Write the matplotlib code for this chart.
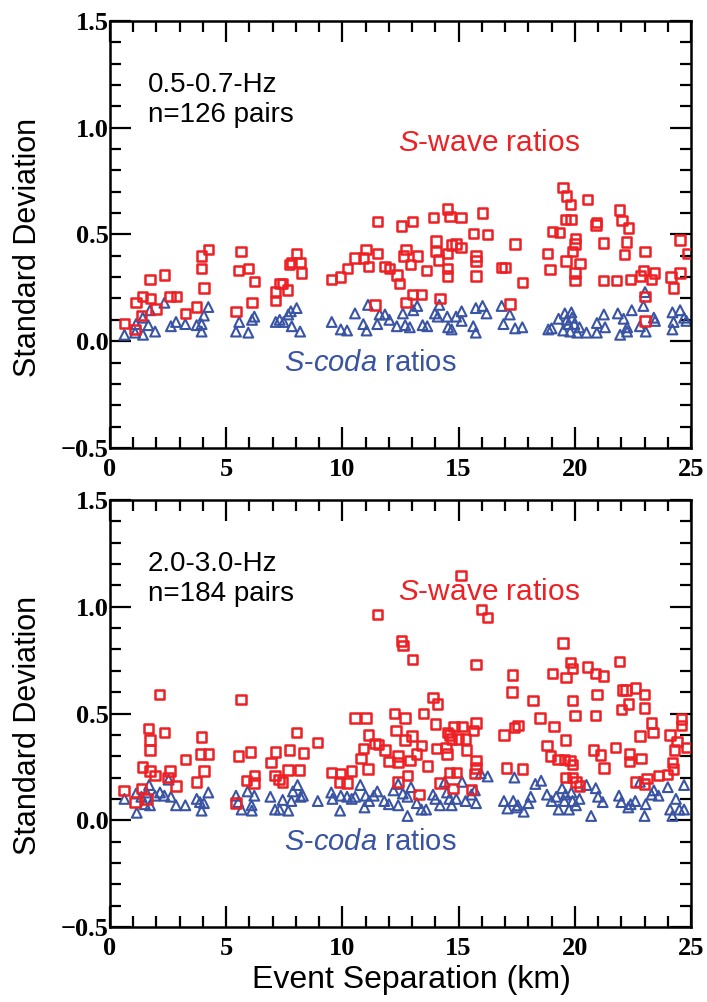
import matplotlib
matplotlib.use('Agg')
import matplotlib.pyplot as plt
from matplotlib.ticker import MultipleLocator

plt.rcParams['font.family'] = ['Liberation Sans', 'DejaVu Sans']
plt.rcParams['mathtext.fontset'] = 'custom'
plt.rcParams['mathtext.it'] = 'Liberation Sans:italic'
plt.rcParams['mathtext.rm'] = 'Liberation Sans'

red = '#ED2024'
blue = '#3A54A4'

# ---- 0.5-0.7 Hz panel ----
top_wave_x = [0.62, 1.12, 1.41, 1.72, 1.75, 1.36, 1.08, 1.97, 2.34, 2.58, 2.87, 3.24, 3.73, 3.94, 3.94,
              4.04, 4.23, 5.42, 5.64, 5.52, 5.95, 6.21, 6.11, 7.13, 7.13, 7.31, 7.43, 7.63, 7.72, 7.80,
              8.03, 8.18, 8.23, 9.54, 9.93, 10.23, 10.54, 10.90, 11.02, 11.13, 11.52, 11.52, 11.40, 11.83,
              12.02, 12.34, 12.45, 12.55, 13.02, 12.74, 12.62, 13.22, 12.94, 13.63, 13.02, 13.41, 12.74,
              13.91, 14.51, 14.63, 15.10, 14.03, 14.03, 14.13, 14.51, 14.70, 14.89, 15.10, 14.51, 14.51,
              14.20, 15.63, 16.03, 16.24, 15.74, 15.74, 15.74, 16.85, 17.00, 17.43, 17.74, 17.21, 18.82,
              18.93, 19.03, 19.33, 19.50, 19.65, 19.82, 19.61, 19.84, 20.04, 20.00, 19.90, 19.62, 20.22,
              20.01, 20.01, 20.54, 20.94, 20.92, 21.23, 21.23, 21.80, 21.92, 22.03, 22.32, 22.23, 22.13,
              22.40, 23.02, 22.83, 22.95, 23.31, 23.42, 23.02, 23.02, 24.13, 24.24, 24.53, 24.53, 24.86]
top_wave_y = [0.083, 0.18, 0.21, 0.29, 0.20, 0.12, 0.055, 0.15, 0.31, 0.21, 0.21, 0.13, 0.16, 0.40, 0.34,
              0.25, 0.43, 0.14, 0.42, 0.33, 0.34, 0.28, 0.18, 0.23, 0.19, 0.27, 0.27, 0.24, 0.36, 0.37,
              0.41, 0.37, 0.32, 0.29, 0.30, 0.34, 0.39, 0.39, 0.43, 0.35, 0.41, 0.56, 0.17, 0.35,
              0.34, 0.31, 0.27, 0.54, 0.56, 0.43, 0.40, 0.40, 0.36, 0.33, 0.22, 0.22, 0.18,
              0.58, 0.62, 0.585, 0.58, 0.47, 0.42, 0.38, 0.41, 0.45, 0.455, 0.44, 0.34, 0.305,
              0.20, 0.505, 0.60, 0.50, 0.40, 0.375, 0.305, 0.345, 0.345, 0.455, 0.275, 0.175, 0.41,
              0.335, 0.515, 0.51, 0.72, 0.68, 0.64, 0.57, 0.57, 0.48, 0.455, 0.42, 0.375, 0.365,
              0.32, 0.285, 0.665, 0.555, 0.545, 0.46, 0.285, 0.285, 0.615, 0.565, 0.53, 0.465, 0.405,
              0.29, 0.42, 0.305, 0.33, 0.29, 0.32, 0.21, 0.095, 0.30, 0.25, 0.475, 0.32, 0.41]

top_coda_x = [0.62, 1.12, 1.08, 1.41, 1.42, 1.65, 1.72, 1.94, 2.34, 2.62, 2.84, 3.24, 3.73, 3.94, 3.94,
              4.04, 4.23, 5.42, 5.56, 5.95, 6.11, 6.21, 7.13, 7.30, 7.47, 7.67, 7.78, 8.03, 7.82, 8.18,
              9.54, 9.93, 10.20, 10.54, 10.90, 11.04, 11.10, 11.50, 11.60, 11.83, 12.02,
              12.34, 12.60, 12.70, 12.90, 13.05, 13.22, 13.45, 13.65, 13.98, 14.17, 14.10, 14.51, 14.55,
              14.70, 14.89, 15.13, 15.13, 15.63, 15.74, 15.74, 16.03, 16.20, 16.85, 16.93, 17.20, 17.43,
              17.74, 18.86, 19.00, 19.30, 19.50, 19.57, 19.65, 19.72, 19.85, 19.88, 19.98, 19.80, 20.10,
              20.20, 20.50, 20.95, 20.95, 21.25, 21.30, 21.85, 21.95, 22.10, 22.25, 22.25, 22.45, 22.80,
              22.95, 23.02, 23.05, 23.40, 23.45, 24.20, 24.25, 24.20, 24.53, 24.70, 24.80]
top_coda_y = [0.03, 0.08, 0.04, 0.11, 0.03, 0.075, 0.145, 0.045, 0.18, 0.07, 0.09, 0.08, 0.075, 0.08, 0.045,
              0.12, 0.16, 0.045, 0.09, 0.04, 0.10, 0.115, 0.09, 0.10, 0.09, 0.125, 0.14, 0.155, 0.07, 0.045,
              0.09, 0.055, 0.05, 0.13, 0.08, 0.05, 0.17, 0.08, 0.125, 0.125, 0.10,
              0.07, 0.13, 0.075, 0.065, 0.145, 0.165, 0.075, 0.07, 0.13, 0.17, 0.115, 0.115, 0.065,
              0.055, 0.115, 0.14, 0.095, 0.07, 0.04, 0.155, 0.165, 0.13, 0.165, 0.08, 0.125, 0.06,
              0.065, 0.055, 0.06, 0.105, 0.05, 0.13, 0.10, 0.08, 0.135, 0.11, 0.08, 0.045, 0.04,
              0.065, 0.04, 0.085, 0.04, 0.125, 0.065, 0.13, 0.03, 0.105, 0.065, 0.045, 0.145, 0.07,
              0.165, 0.23, 0.045, 0.11, 0.095, 0.135, 0.09, 0.055, 0.145, 0.11, 0.095]

# ---- 2.0-3.0 Hz panel ----
bot_wave_x = [0.60, 1.08, 1.36, 1.41, 1.65, 1.72, 1.72, 1.72, 1.94, 1.60, 2.12, 2.34, 2.58, 2.50, 2.84,
              3.24, 3.73, 3.94, 3.90, 4.04, 4.23, 5.42, 5.52, 5.64, 5.88, 6.05, 6.21, 6.20, 6.93, 7.13,
              7.10, 7.28, 7.43, 7.72, 7.65, 8.03, 8.15, 8.33, 8.92, 9.54, 9.93, 9.87, 10.20, 10.40, 10.54,
              11.02, 11.13, 10.90, 10.80, 11.10, 11.40, 11.55, 11.83, 12.00, 11.52,
              15.10, 15.99, 16.24, 12.55, 12.60, 13.02, 15.74, 17.31, 19.03, 19.50, 19.82, 19.90, 19.62,
              20.54, 20.90, 21.23, 21.92, 20.95, 22.05, 22.20, 22.60, 23.00, 22.00, 22.30, 23.00, 23.30,
              23.37, 22.80, 24.10, 24.40, 24.30, 24.80, 24.60, 24.60, 24.20, 24.25, 24.00, 23.60, 23.10,
              23.00, 22.60, 22.85, 22.35, 22.35, 21.75, 21.25, 21.10, 20.80, 20.90, 19.90, 20.00, 19.60,
              19.80, 19.90, 19.55, 19.28, 18.95, 18.80, 19.60, 19.90, 20.05, 20.20, 19.10, 18.50, 18.20,
              17.30, 17.55, 17.40, 16.95, 17.05, 17.75, 15.75, 15.65, 15.30, 15.35, 15.75, 15.75, 15.70,
              15.15, 14.80, 14.53, 14.60, 14.70, 15.00, 14.45, 14.50, 14.05, 14.00, 13.90, 14.10, 13.50,
              12.70, 12.24, 12.30, 12.70, 13.00, 13.40, 13.20, 12.90, 12.40, 12.40, 13.65, 12.80, 12.40,
              14.20, 14.60, 14.90, 14.75, 15.55, 13.30]
bot_wave_y = [0.14, 0.086, 0.15, 0.25, 0.43, 0.375, 0.33, 0.23, 0.21, 0.10, 0.59, 0.41, 0.23, 0.20, 0.16,
              0.285, 0.18, 0.39, 0.31, 0.23, 0.31, 0.08, 0.30, 0.565, 0.185, 0.32, 0.21, 0.175, 0.27, 0.32,
              0.21, 0.19, 0.18, 0.33, 0.235, 0.41, 0.235, 0.315, 0.365, 0.225, 0.22, 0.18, 0.175, 0.23, 0.48,
              0.48, 0.40, 0.335, 0.29, 0.24, 0.36, 0.355, 0.33, 0.275, 0.965,
              1.148, 0.987, 0.95, 0.84, 0.82, 0.754, 0.73, 0.68, 0.687, 0.83, 0.74, 0.71, 0.67,
              0.718, 0.687, 0.675, 0.745, 0.59, 0.61, 0.61, 0.62, 0.59, 0.52, 0.545, 0.525, 0.455,
              0.41, 0.395, 0.40, 0.37, 0.33, 0.34, 0.475, 0.445, 0.27, 0.24, 0.215, 0.21, 0.195,
              0.17, 0.18, 0.29, 0.31, 0.275, 0.34, 0.245, 0.305, 0.33, 0.49, 0.56, 0.49, 0.375,
              0.28, 0.26, 0.285, 0.285, 0.30, 0.35, 0.20, 0.20, 0.18, 0.16, 0.44, 0.48, 0.56,
              0.60, 0.445, 0.435, 0.40, 0.245, 0.24, 0.455, 0.42, 0.38, 0.33, 0.28, 0.245, 0.22,
              0.44, 0.44, 0.41, 0.40, 0.38, 0.38, 0.34, 0.31, 0.335, 0.45, 0.575, 0.545, 0.50,
              0.48, 0.50, 0.42, 0.375, 0.395, 0.35, 0.31, 0.28, 0.30, 0.27, 0.255, 0.21, 0.18,
              0.175, 0.225, 0.225, 0.15, 0.145, 0.12]

bot_coda_x = [0.62, 1.15, 1.12, 1.35, 1.50, 1.57, 1.68, 1.72, 1.94, 2.15, 2.34, 2.52, 2.62, 2.84, 3.24,
              3.73, 3.87, 3.94, 4.04, 4.23, 5.42, 5.52, 5.66, 5.92, 6.09, 6.21, 6.10, 6.90, 7.10, 7.30,
              7.43, 7.67, 7.80, 7.87, 8.07, 8.20, 8.30, 8.94, 9.52, 9.57, 9.90, 9.93, 10.20, 10.40, 10.55,
              10.77, 10.95, 11.00, 11.15, 11.35, 11.50, 11.80, 12.00,
              12.40, 12.20, 12.60, 12.95, 12.80, 12.40, 12.80, 13.20, 13.40, 13.60, 13.90, 14.00, 14.20,
              14.40, 14.50, 14.60, 14.70, 14.90, 15.15, 15.30, 15.55, 15.70, 15.75, 15.95, 16.25, 16.95,
              17.10, 17.40, 17.35, 17.50, 17.55, 17.80, 18.00, 18.10, 18.30, 18.55, 18.80, 19.00, 19.20,
              19.30, 19.45, 19.55, 19.60, 19.75, 19.85, 19.90, 20.05, 20.20, 20.50, 20.70, 20.90, 21.00,
              21.20, 21.90, 22.00, 22.30, 22.40, 22.60, 22.80, 23.00, 23.05, 23.30, 23.40, 23.60, 24.00,
              24.10, 24.20, 24.35, 24.50, 24.70, 24.70]
bot_coda_y = [0.10, 0.035, 0.125, 0.11, 0.075, 0.13, 0.165, 0.07, 0.115, 0.13, 0.115, 0.19, 0.11, 0.07, 0.07,
              0.10, 0.085, 0.045, 0.08, 0.13, 0.115, 0.085, 0.05, 0.135, 0.07, 0.115, 0.045, 0.11, 0.05, 0.05,
              0.095, 0.045, 0.09, 0.135, 0.165, 0.11, 0.115, 0.09, 0.13, 0.10, 0.045, 0.115, 0.11, 0.10, 0.11,
              0.165, 0.06, 0.115, 0.09, 0.115, 0.135, 0.09, 0.075,
              0.17, 0.14, 0.125, 0.155, 0.11, 0.07, 0.02, 0.08, 0.05, 0.05, 0.12, 0.10, 0.07,
              0.18, 0.13, 0.10, 0.07, 0.10, 0.18, 0.09, 0.12, 0.14, 0.08, 0.22, 0.205, 0.09,
              0.055, 0.20, 0.09, 0.06, 0.07, 0.04, 0.08, 0.11, 0.17, 0.185, 0.12, 0.09, 0.11,
              0.05, 0.15, 0.09, 0.12, 0.05, 0.13, 0.09, 0.07, 0.10, 0.165, 0.02, 0.15, 0.11,
              0.085, 0.115, 0.085, 0.06, 0.075, 0.09, 0.18, 0.02, 0.075, 0.12, 0.14, 0.115, 0.155,
              0.05, 0.02, 0.10, 0.05, 0.165, 0.05]

panels = [
    ('0.5-0.7-Hz\nn=126 pairs', top_wave_x, top_wave_y, top_coda_x, top_coda_y, (12.39, 0.93)),
    ('2.0-3.0-Hz\nn=184 pairs', bot_wave_x, bot_wave_y, bot_coda_x, bot_coda_y, (12.4, 1.07)),
]

fig = plt.figure(figsize=(7.07, 10.02), dpi=100)
ax1 = fig.add_axes([0.1556, 0.553, 0.8218, 0.426])
ax2 = fig.add_axes([0.1556, 0.0749, 0.8218, 0.426])

for ax, (label, wx, wy, cx, cy, wpos) in zip([ax1, ax2], panels):
    ax.scatter(cx, cy, marker='^', s=50, facecolors='none', edgecolors=blue, linewidths=1.5, zorder=2)
    ax.scatter(wx, wy, marker='s', s=46, facecolors='none', edgecolors=red, linewidths=1.8, zorder=3)
    ax.set_xlim(0, 25)
    ax.set_ylim(-0.5, 1.5)
    ax.xaxis.set_major_locator(MultipleLocator(5))
    ax.xaxis.set_minor_locator(MultipleLocator(1))
    ax.yaxis.set_major_locator(MultipleLocator(0.5))
    ax.yaxis.set_minor_locator(MultipleLocator(0.1))
    ax.tick_params(which='both', direction='in', top=True, right=True, width=1.6)
    ax.tick_params(which='major', length=15)
    ax.tick_params(which='minor', length=8)
    ax.tick_params(axis='y', pad=1)
    ax.tick_params(axis='x', pad=7)
    for sp in ax.spines.values():
        sp.set_linewidth(1.8)
    for t in ax.get_xticklabels() + ax.get_yticklabels():
        t.set_fontfamily('Liberation Serif')
        t.set_fontweight('bold')
        t.set_fontsize(19)
    ax.text(0.065, 0.815, label, transform=ax.transAxes, fontsize=20, va='center', ha='left',
            linespacing=1.2)
    ax.text(wpos[0], wpos[1], r'$\mathit{S}$-wave ratios', color=red, fontsize=21.5, va='center', ha='left')
    ax.text(7.5, -0.1, r'$\mathit{S}$-$\mathit{coda}$ ratios', color=blue, fontsize=21,
            va='center', ha='left')

fig.text(28 / 707, 1 - 247 / 1002, 'Standard Deviation', rotation=90, fontsize=22, ha='center', va='center')
fig.text(28 / 707, 1 - 725 / 1002, 'Standard Deviation', rotation=90, fontsize=22, ha='center', va='center')
fig.text(411 / 707, 1 - 980 / 1002, 'Event Separation (km)', fontsize=23, ha='center', va='center')

fig.savefig('out.png', dpi=100)
